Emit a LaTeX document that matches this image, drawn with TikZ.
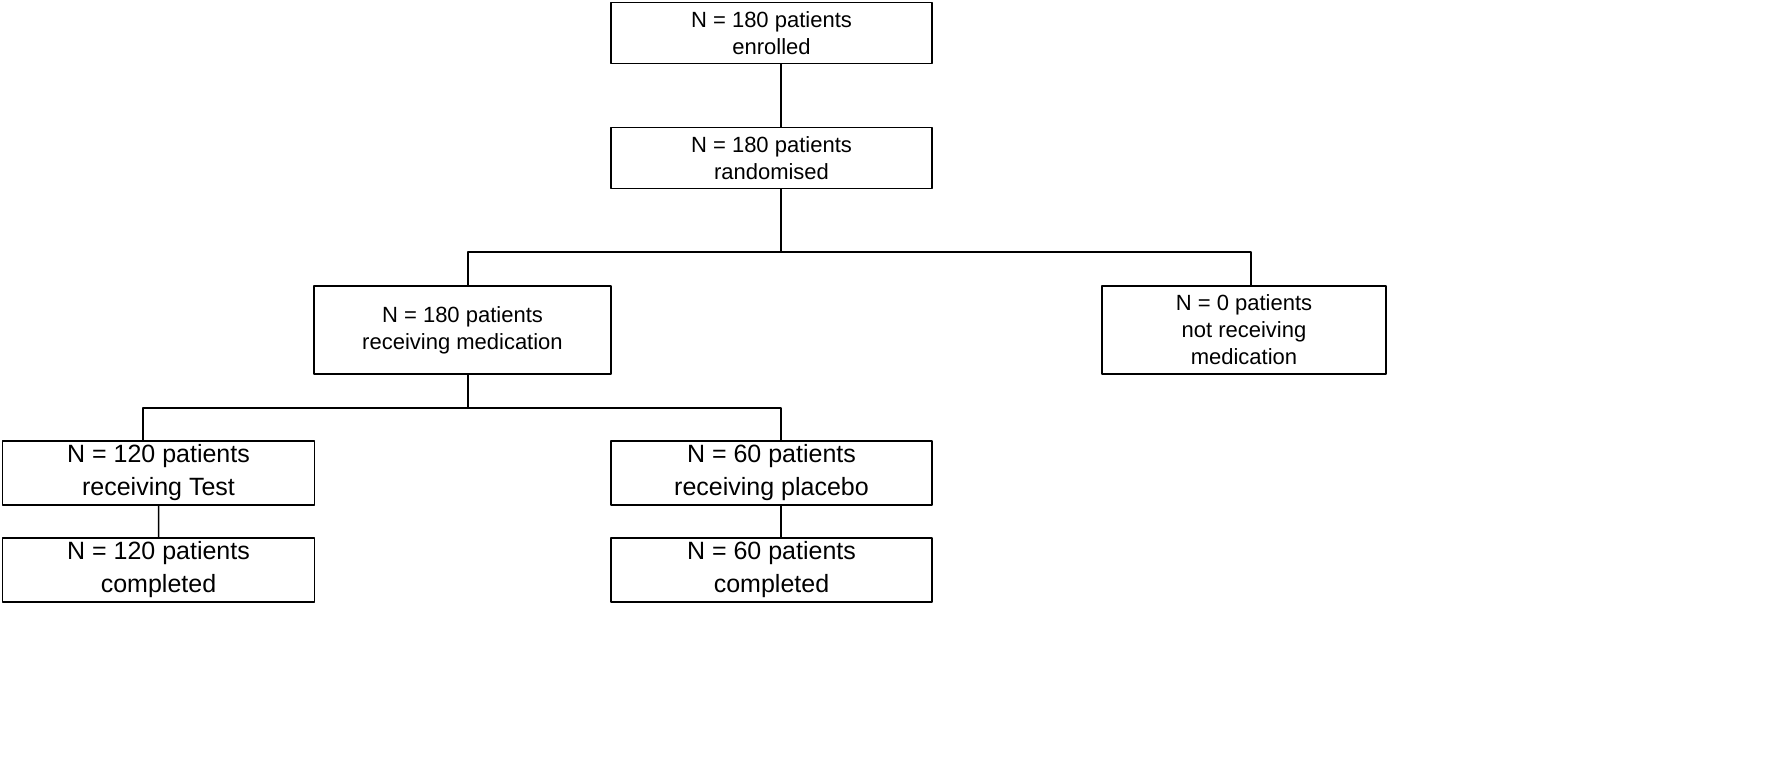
\documentclass[tikz,border=0pt]{standalone}
\usepackage{fontspec}
\setmainfont{Liberation Sans}
\begin{document}
\begin{tikzpicture}[x=1bp,y=-1bp,line join=bevel,scale=1.13,every node/.append style={transform shape},
  box/.style={draw,line width=1.3bp,align=center,inner sep=0pt,font=\fontsize{22bp}{27bp}\selectfont},
  bigbox/.style={box,font=\fontsize{25bp}{33bp}\selectfont},
  link/.style={line width=1.7bp}]
%%
\node (enrolled) at (771.5,33) [box,minimum width=321bp,minimum height=61bp] {N = 180 patients\\enrolled};
\node (random) at (771.5,158) [box,minimum width=321bp,minimum height=61bp] {N = 180 patients\\randomised};
\node (medic) at (462.5,330) [box,minimum width=297bp,minimum height=88bp] {N = 180 patients\\receiving medication};
\node (nomedic) at (1244,330) [box,minimum width=284bp,minimum height=88bp] {N = 0 patients\\not receiving\\medication};
\node (test) at (158.5,473) [bigbox,minimum width=312bp,minimum height=64bp] {N = 120 patients\\receiving Test};
\node (placebo) at (771.5,473) [bigbox,minimum width=321bp,minimum height=64bp] {N = 60 patients\\receiving placebo};
\node (donetest) at (158.5,570) [bigbox,minimum width=312bp,minimum height=64bp] {N = 120 patients\\completed};
\node (doneplac) at (771.5,570) [bigbox,minimum width=321bp,minimum height=64bp] {N = 60 patients\\completed};
%
\coordinate (split_a) at (781,252);
\coordinate (split_b) at (468,408);
\coordinate (left_a) at (468,0);
\coordinate (right_a) at (1251,0);
\coordinate (left_b) at (143,0);
\draw [link] (enrolled.south -| split_a) -- (random.north -| split_a);
\draw [link] (random.south -| split_a) -- (split_a);
\draw [link] (medic.north -| left_a) |- (split_a) -| (nomedic.north -| right_a);
\draw [link] (medic.south -| split_b) -- (split_b);
\draw [link] (test.north -| left_b) |- (split_b) -| (placebo.north -| split_a);
\draw [link] (test) -- (donetest);
\draw [link] (placebo.south -| split_a) -- (doneplac.north -| split_a);
%
\pgfresetboundingbox
\useasboundingbox (0bp,0bp) rectangle (1770bp,-777bp);
\end{tikzpicture}
\end{document}
